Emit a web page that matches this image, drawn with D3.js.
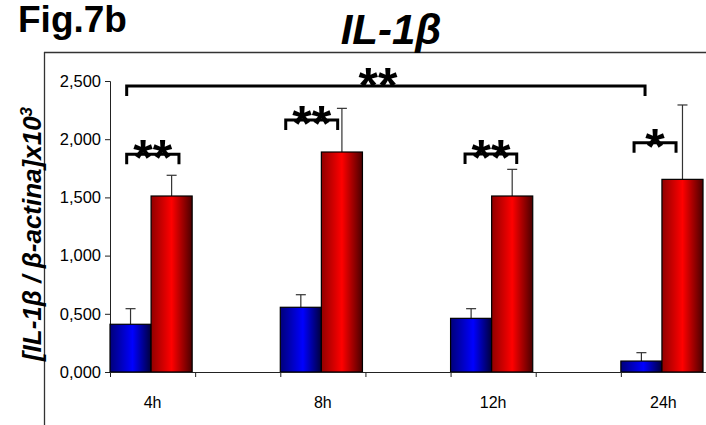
<!DOCTYPE html>
<html>
<head>
<meta charset="utf-8">
<script src="https://cdn.jsdelivr.net/npm/d3@7"></script>
<style>
  html, body { margin: 0; padding: 0; background: #fff; }
  svg { display: block; }
  text { font-family: "Liberation Sans", Arial, sans-serif; }
</style>
</head>
<body>
<svg id="chart" width="706" height="425"></svg>
<script>
// IL-1β expression relative to β-actin (x10^3), control vs treated
const categories = ["4h", "8h", "12h", "24h"];
const controlValues = [0.410, 0.556, 0.461, 0.094];
const controlErrors = [0.134, 0.108, 0.083, 0.072];
const treatedValues = [1.512, 1.890, 1.512, 1.655];
const treatedErrors = [0.178, 0.375, 0.229, 0.639];
const yTicks = [0, 0.5, 1, 1.5, 2, 2.5];

// significance brackets: label, bracket height (data units), ends and label centre in slot units
const sigLabels = ["**", "**", "**", "*", "**"];
const sigLevels = [1.870, 2.165, 1.873, 1.970, 2.457];
const sigStarts = [0.196, 2.064, 4.170, 6.155, 0.196];
const sigEnds = [0.810, 2.674, 4.777, 6.648, 6.284];
const sigCentres = [0.503, 2.369, 4.474, 6.402, 3.148];

const svg = d3.select("#chart");

// slot layout: each time point followed by an empty slot
const slots = categories.flatMap((c, i) => i < categories.length - 1 ? [c, "gap" + i] : [c]);

const plotLeft = 110, plotRight = 706, plotTop = 81, plotBottom = 372;

const x = d3.scaleBand().domain(slots).range([plotLeft, plotRight]).padding(0);
const xIndex = d3.scaleLinear().domain([0, slots.length]).range([plotLeft, plotRight]);
const inner = d3.scaleBand().domain(["control", "treated"]).range([0, x.bandwidth() * 0.965]);
const y = d3.scaleLinear().domain([0, 2.5]).range([plotBottom, plotTop]);

// gradients
const defs = svg.append("defs");
function grad(id, stops) {
  const g = defs.append("linearGradient").attr("id", id)
    .attr("x1", "0%").attr("x2", "100%").attr("y1", "0%").attr("y2", "0%");
  stops.forEach(([o, c]) => g.append("stop").attr("offset", o).attr("stop-color", c));
}
grad("gBlue", [["0%", "#00007a"], ["55%", "#0000ff"], ["100%", "#00003c"]]);
grad("gRed", [["0%", "#900000"], ["50%", "#ff0000"], ["100%", "#4a0000"]]);

// outer frame (top and left edges)
const frame = svg.append("g").attr("stroke", "#333").attr("stroke-width", 1.3);
frame.append("line").attr("x1", 44.5).attr("x2", 44.5).attr("y1", 52).attr("y2", 425);
frame.append("line").attr("x1", 44).attr("x2", 706).attr("y1", 52.5).attr("y2", 52.5);

// headings
svg.append("text").attr("x", 18).attr("y", 32)
  .attr("font-size", 37).attr("font-weight", "bold").text("Fig.7b");
svg.append("text").attr("x", 391).attr("y", 44).attr("text-anchor", "middle")
  .attr("font-size", 42).attr("font-weight", "bold").attr("font-style", "italic").text("IL-1β");

// y axis title
const yt = svg.append("text")
  .attr("transform", "translate(41,234) rotate(-90)")
  .attr("text-anchor", "middle")
  .attr("font-size", 26).attr("font-weight", "bold").attr("font-style", "italic");
yt.append("tspan").text("[IL-1β / β-actina]x10");
yt.append("tspan").attr("dy", -9).attr("font-size", 17).text("3");

// y axis
const yAxis = svg.append("g").attr("transform", `translate(${plotLeft},0)`)
  .call(d3.axisLeft(y).tickValues(yTicks).tickSize(5).tickPadding(4)
    .tickFormat(d => d.toFixed(3).replace(".", ",")));
yAxis.select(".domain").attr("stroke", "#222");
yAxis.selectAll(".tick line").attr("stroke", "#222");
yAxis.selectAll("text").attr("font-size", 16.5).attr("fill", "#000")
  .attr("font-family", "'Liberation Sans', Arial, sans-serif");

// bars
const rows = categories.map((c, i) => ({
  cat: c,
  bars: [
    { key: "control", v: controlValues[i], e: controlErrors[i], fill: "url(#gBlue)" },
    { key: "treated", v: treatedValues[i], e: treatedErrors[i], fill: "url(#gRed)" }
  ]
}));

const groups = svg.append("g").selectAll("g").data(rows).join("g")
  .attr("transform", d => `translate(${x(d.cat)},0)`);

// error bars (positive side)
groups.selectAll("g.err").data(d => d.bars).join("g").attr("class", "err")
  .each(function (d) {
    const cx = inner(d.key) + inner.bandwidth() / 2;
    const g = d3.select(this);
    g.append("line").attr("x1", cx).attr("x2", cx)
      .attr("y1", y(d.v)).attr("y2", y(d.v + d.e))
      .attr("stroke", "#333").attr("stroke-width", 1.2);
    g.append("line").attr("x1", cx - 5).attr("x2", cx + 5)
      .attr("y1", y(d.v + d.e)).attr("y2", y(d.v + d.e))
      .attr("stroke", "#333").attr("stroke-width", 1.2);
  });

groups.selectAll("rect").data(d => d.bars).join("rect")
  .attr("x", d => inner(d.key))
  .attr("width", inner.bandwidth())
  .attr("y", d => y(d.v))
  .attr("height", d => y(0) - y(d.v))
  .attr("fill", d => d.fill)
  .attr("stroke", "#000").attr("stroke-width", 1.2);

// x axis: boundary ticks and category labels
const xAxis = svg.append("g").attr("transform", `translate(0,${plotBottom})`)
  .call(d3.axisBottom(xIndex).tickValues(d3.range(slots.length + 1)).tickSize(5).tickFormat(""));
xAxis.select(".domain").attr("stroke", "#222");
xAxis.selectAll(".tick line").attr("stroke", "#222");

svg.append("g").selectAll("text").data(categories).join("text")
  .attr("x", d => x(d) + x.bandwidth() / 2)
  .attr("y", 408)
  .attr("text-anchor", "middle")
  .attr("font-size", 16)
  .text(d => d);

// significance brackets
const leg = 10;
const sig = svg.append("g");
sigLabels.forEach((lab, i) => {
  const x0 = xIndex(sigStarts[i]), x1 = xIndex(sigEnds[i]), yy = y(sigLevels[i]);
  sig.append("path")
    .attr("d", `M${x0},${yy + leg} V${yy} H${x1} V${yy + leg}`)
    .attr("fill", "none").attr("stroke", "#000").attr("stroke-width", 3);
  sig.append("text")
    .attr("x", xIndex(sigCentres[i]))
    .attr("y", yy + (i === sigLabels.length - 1 ? 17 : 21))
    .attr("text-anchor", "middle")
    .attr("font-size", 50).attr("font-weight", "bold")
    .text(lab);
});
</script>
</body>
</html>
